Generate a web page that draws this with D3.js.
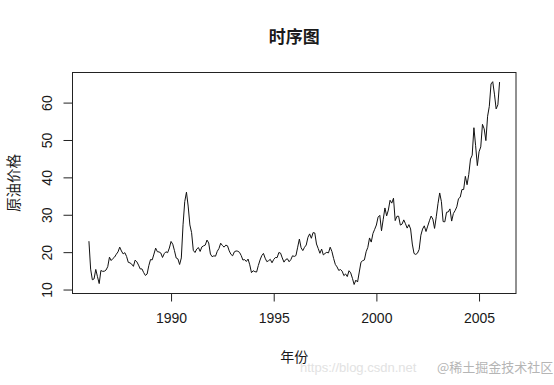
<!DOCTYPE html>
<html>
<head>
<meta charset="utf-8">
<script src="https://cdn.jsdelivr.net/npm/d3@7"></script>
<style>
  body { margin: 0; background: #fff; }
  text { font-family: "Liberation Sans", Arial, sans-serif; fill: #1a1a1a; }
  .cjk { font-family: "Noto Sans CJK SC", sans-serif; }
</style>
</head>
<body>
<div class="container"></div>
<script>
// monthly crude oil price, Jan 1986 .. Jan 2006
let startYear = 1986;
let freq = 12;
let prices = [
    22.93, 15.46, 12.61, 12.84, 15.38, 13.43, 11.59, 15.10, 14.87, 14.90, 15.22, 16.11,
    18.65, 17.75, 18.30, 18.68, 19.44, 20.07, 21.34, 20.31, 19.53, 19.86, 18.85, 17.28,
    17.13, 16.80, 16.20, 17.86, 17.42, 16.53, 15.50, 15.52, 14.54, 13.77, 14.14, 16.38,
    18.02, 17.94, 19.48, 21.07, 20.12, 20.05, 19.78, 18.58, 19.59, 20.10, 19.86, 21.10,
    22.86, 22.11, 20.39, 18.43, 18.20, 16.70, 18.45, 27.31, 33.51, 36.04, 32.33, 27.28,
    25.23, 20.48, 19.90, 20.83, 21.23, 20.19, 21.40, 21.69, 21.89, 23.23, 22.46, 19.50,
    18.79, 19.01, 18.92, 20.23, 20.98, 22.39, 21.78, 21.34, 21.88, 21.69, 20.34, 19.41,
    19.03, 20.09, 20.32, 20.25, 19.95, 19.09, 17.89, 18.01, 17.50, 18.15, 16.61, 14.52,
    15.03, 14.78, 14.68, 16.42, 17.89, 19.06, 19.66, 18.38, 17.45, 17.72, 18.07, 17.16,
    18.04, 18.57, 18.54, 19.90, 19.74, 18.45, 17.33, 18.02, 18.23, 17.43, 17.99, 19.03,
    18.85, 19.09, 21.33, 23.50, 21.17, 20.42, 21.30, 21.90, 23.97, 24.88, 23.71, 25.23,
    25.13, 22.18, 20.97, 19.70, 20.82, 19.26, 19.66, 19.95, 19.80, 21.33, 20.19, 18.33,
    16.72, 16.06, 15.12, 15.35, 14.91, 13.72, 14.17, 13.47, 15.03, 14.46, 13.00, 11.35,
    12.52, 12.01, 14.68, 17.31, 17.72, 17.92, 20.10, 21.28, 23.80, 22.69, 25.00, 26.10,
    27.26, 29.37, 29.84, 25.72, 28.79, 31.82, 29.70, 31.26, 33.88, 33.11, 34.42, 28.44,
    29.59, 29.61, 27.24, 27.49, 28.63, 27.60, 26.43, 27.37, 26.20, 22.17, 19.64, 19.39,
    19.72, 20.72, 24.53, 26.18, 27.04, 25.52, 26.97, 28.39, 29.66, 28.84, 26.35, 29.46,
    32.95, 35.83, 33.51, 28.17, 28.11, 30.66, 30.76, 31.57, 28.31, 30.34, 31.11, 32.13,
    34.31, 34.69, 36.74, 36.75, 40.28, 38.03, 40.78, 44.90, 45.94, 53.28, 48.47, 43.15,
    46.84, 48.15, 54.19, 52.98, 49.83, 56.35, 58.99, 64.98, 65.59, 62.26, 58.32, 59.41,
    65.49
];
let xTicks = [1990, 1995, 2000, 2005];
let yTicks = [10, 20, 30, 40, 50, 60];
let title = "时序图";
let xTitle = "年份";
let yTitle = "原油价格";

let W = 554, H = 385;
let margin = { top: 72.5, right: 38, bottom: 91.5, left: 72.5 };
let width = W - margin.left - margin.right;
let height = H - margin.top - margin.bottom;

let data = prices.map(function (p, i) {
    return { t: startYear + i / freq, v: p };
});

let svg = d3.select(".container")
    .append("svg")
    .attr("width", W)
    .attr("height", H);

let g = svg.append("g")
    .attr("transform", "translate(" + margin.left + "," + margin.top + ")");

// R style: extend data range by 4% on each side
let tExt = d3.extent(data, d => d.t);
let tPad = (tExt[1] - tExt[0]) * 0.04;
let x = d3.scaleLinear()
    .domain([tExt[0] - tPad, tExt[1] + tPad])
    .range([0, width]);

let y = d3.scaleLinear()
    .domain([8.94, 68.05])
    .range([height, 0]);

// x axis
let xAxis = g.append("g")
    .attr("transform", "translate(0," + height + ")")
    .call(d3.axisBottom(x).tickValues(xTicks).tickFormat(d3.format("d")).tickSize(8).tickPadding(12));
xAxis.select(".domain").remove();
xAxis.selectAll("line").attr("stroke", "#222");
xAxis.selectAll("text")
    .style("font-size", "14px")
    .style("font-family", "'Liberation Sans', Arial, sans-serif")
    .attr("fill", "#1a1a1a");

// y axis
let yAxis = g.append("g")
    .call(d3.axisLeft(y).tickValues(yTicks).tickSize(9).tickPadding(0));
yAxis.select(".domain").remove();
yAxis.selectAll("line").attr("stroke", "#222");
yAxis.selectAll("text")
    .attr("x", null)
    .attr("dy", null)
    .attr("text-anchor", "middle")
    .attr("transform", "translate(-21,0) rotate(-90)")
    .style("font-size", "14px")
    .style("font-family", "'Liberation Sans', Arial, sans-serif")
    .attr("fill", "#1a1a1a");

// box
g.append("rect")
    .attr("width", width)
    .attr("height", height)
    .attr("fill", "none")
    .attr("stroke", "#222")
    .attr("stroke-width", 1);

// series
let line = d3.line()
    .x(d => x(d.t))
    .y(d => y(d.v));

g.append("path")
    .datum(data)
    .attr("d", line)
    .attr("fill", "none")
    .attr("stroke", "#111")
    .attr("stroke-width", 1);

// titles
svg.append("text")
    .attr("class", "cjk")
    .attr("x", margin.left + width / 2)
    .attr("y", 43)
    .attr("text-anchor", "middle")
    .style("font-size", "17px")
    .style("font-weight", "bold")
    .text(title);

svg.append("text")
    .attr("class", "cjk")
    .attr("x", margin.left + width / 2)
    .attr("y", 362)
    .attr("text-anchor", "middle")
    .style("font-size", "14px")
    .text(xTitle);

svg.append("text")
    .attr("class", "cjk")
    .attr("transform", "translate(19," + (margin.top + height / 2) + ") rotate(-90)")
    .attr("text-anchor", "middle")
    .style("font-size", "14.5px")
    .text(yTitle);

// watermark
svg.append("text")
    .attr("x", 300)
    .attr("y", 372)
    .style("font-size", "13px")
    .style("fill", "#e2e2e2")
    .text("https://blog.csdn.net");
svg.append("text")
    .attr("class", "cjk")
    .attr("x", 437)
    .attr("y", 372)
    .style("font-size", "13px")
    .style("fill", "#b5b5b5")
    .text("@稀土掘金技术社区");
</script>
</body>
</html>
